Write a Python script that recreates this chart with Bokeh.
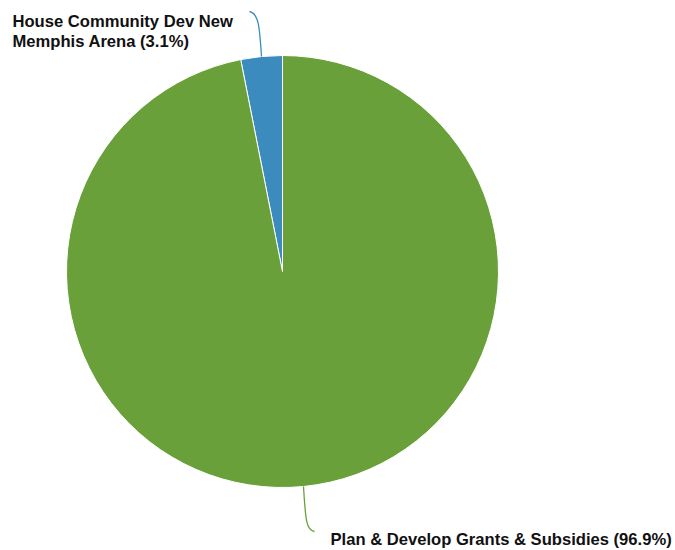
import math
from bokeh.plotting import figure
from bokeh.models import Range1d, ColumnDataSource
from bokeh.core.properties import value
from bokeh.embed import file_html
from bokeh.resources import INLINE

categories = ["House Community Dev New Memphis Arena", "Plan & Develop Grants & Subsidies"]
shares = [3.1, 96.9]
colors = ["#3b8bbe", "#69a03a"]
label_texts = ["House Community Dev New\nMemphis Arena (3.1%)", "Plan & Develop Grants & Subsidies (96.9%)"]

W, H = 675, 550
p = figure(width=W, height=H, output_backend="svg", toolbar_location=None,
           x_range=Range1d(0, W), y_range=Range1d(0, H),
           min_border=0, outline_line_color=None)
p.axis.visible = False
p.grid.visible = False
p.background_fill_color = "white"
p.border_fill_color = "white"

def Y(sy):
    return H - sy

cx, cy, r = 282, Y(271), 216
total = sum(shares)
starts, ends = [], []
a = math.pi / 2
for s in shares:
    starts.append(a)
    a += 2 * math.pi * s / total
    ends.append(a)

src = ColumnDataSource(dict(start=starts, end=ends, color=colors, cat=categories))
p.wedge(x=cx, y=cy, radius=r, start_angle="start", end_angle="end",
        fill_color="color", line_color="white", line_width=1, source=src)

# leader lines from slice mid-angles
mids = [(s + e) / 2 for s, e in zip(starts, ends)]
ends_pts = [(249, Y(11)), (314, Y(531))]
for i, m in enumerate(mids):
    x0 = cx + r * math.cos(m)
    y0 = cy + r * math.sin(m)
    x1, y1 = ends_pts[i]
    if i == 0:
        c0 = (x0 - 2, Y(25)); c1 = (x0 - 3, Y(13))
    else:
        c0 = (x0 + 2, Y(520)); c1 = (x0 + 3, Y(530))
    p.bezier(x0=x0, y0=y0, x1=x1, y1=y1, cx0=c0[0], cy0=c0[1], cx1=c1[0], cy1=c1[1],
             line_color=colors[i], line_width=1.3)

lines0 = label_texts[0].split("\n")
font_kw = dict(text_font=value("Liberation Sans"), text_font_style="bold",
               text_font_size="16.6px", text_color="#111111",
               text_baseline="alphabetic", text_align="left")
p.text(x=[12], y=[Y(21)], text=[lines0[0]], **font_kw)
p.text(x=[12], y=[Y(40.5)], text=[lines0[1]], **font_kw)
p.text(x=[330], y=[Y(539)], text=[label_texts[1]], **font_kw)

open("out.html", "w").write(file_html(p, INLINE))
